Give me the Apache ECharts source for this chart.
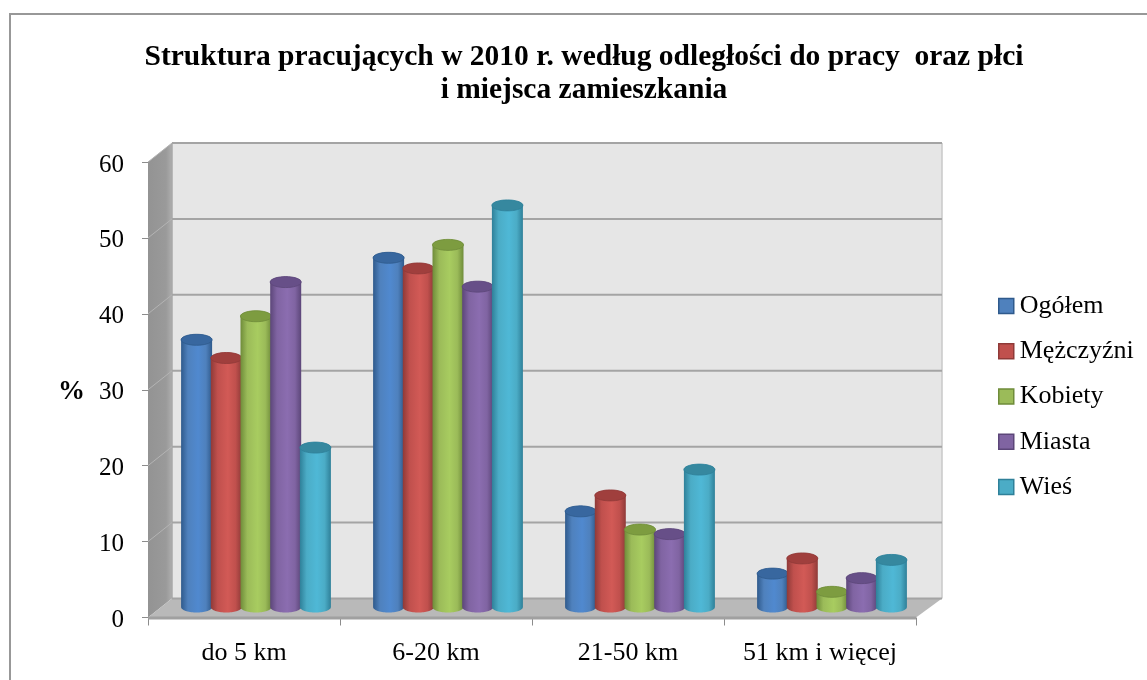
<!DOCTYPE html>
<html>
<head>
<meta charset="utf-8">
<style>html,body{margin:0;padding:0;background:#fff}#c{width:1147px;height:680px}</style>
<script src="https://cdn.jsdelivr.net/npm/echarts@6/dist/echarts.min.js"></script>
</head>
<body>
<div id="c"></div>
<script>
const titleText = 'Struktura pracujących w 2010 r. według odległości do pracy  oraz płci\ni miejsca zamieszkania';
const categories = ['do 5 km', '6-20 km', '21-50 km', '51 km i więcej'];
const seriesNames = ['Ogółem', 'Mężczyźni', 'Kobiety', 'Miasta', 'Wieś'];
const ogolem = [35.2, 46.0, 12.6, 4.4];
const mezczyzni = [32.8, 44.6, 14.7, 6.4];
const kobiety = [38.3, 47.7, 10.2, 2.0];
const miasta = [42.8, 42.2, 9.6, 3.8];
const wies = [21.0, 52.9, 18.1, 6.2];
const yTicks = [0, 10, 20, 30, 40, 50, 60];

const seriesValues = [ogolem, mezczyzni, kobiety, miasta, wies];
const baseColors = ['#4f81bd', '#c0504d', '#9bbb59', '#8064a2', '#4bacc6'];
const edgeColors = ['#2f5a8c', '#8f3a38', '#6f8c3a', '#5c4679', '#2f8099'];
const lightColors = ['#5089cf', '#d25a56', '#a8cc60', '#8b6db0', '#4fb8d6'];
const topColors = ['#38679f', '#a03f3d', '#7d9c40', '#674f88', '#36889f'];

const DEPTH_X = 24, DEPTH_Y = 19, BAR_W = 31, BAR_STEP = 29.7, ELL_RY = 5.5, BACK_EXTRA = 2;
const FONT = '"Liberation Serif", "Times New Roman", serif';

function wallsRender(params, api) {
  const g = params.coordSys;
  const yOf = v => api.coord([0, v])[1];
  const L = g.x, R = g.x + g.width, B = yOf(0), T = yOf(yTicks[yTicks.length - 1]);
  const BR = R + DEPTH_X + BACK_EXTRA;
  const children = [
    { type: 'polygon', shape: { points: [[L, T], [L + DEPTH_X, T - DEPTH_Y], [L + DEPTH_X, B - DEPTH_Y], [L, B]] },
      style: { fill: { type: 'linear', x: 0, y: 0, x2: 1, y2: 0, colorStops: [{ offset: 0, color: '#939393' }, { offset: 0.75, color: '#9a9a9a' }, { offset: 1, color: '#aeaeae' }] } } },
    { type: 'rect', shape: { x: L + DEPTH_X, y: T - DEPTH_Y, width: BR - L - DEPTH_X, height: B - T },
      style: { fill: '#e6e6e6' } },
    { type: 'polygon', shape: { points: [[L, B], [L + DEPTH_X, B - DEPTH_Y], [BR, B - DEPTH_Y], [R, B]] },
      style: { fill: '#b9b9b9' } },
    { type: 'line', shape: { x1: L, y1: B + 0.5, x2: R, y2: B + 0.5 }, style: { stroke: '#a0a0a0', lineWidth: 3 } },
    { type: 'line', shape: { x1: BR, y1: T - DEPTH_Y, x2: BR, y2: B - DEPTH_Y }, style: { stroke: '#c8c8c8', lineWidth: 1.5 } },
    { type: 'line', shape: { x1: L + DEPTH_X, y1: T - DEPTH_Y, x2: L + DEPTH_X, y2: B - DEPTH_Y }, style: { stroke: '#a8a8a8', lineWidth: 1.5 } }
  ];
  yTicks.forEach(v => {
    const y = yOf(v);
    if (v > 0) {
      children.push({ type: 'line', shape: { x1: L, y1: y, x2: L + DEPTH_X, y2: y - DEPTH_Y }, style: { stroke: '#b4b4b4', lineWidth: 1 } });
    }
    children.push({ type: 'line', shape: { x1: L + DEPTH_X, y1: y - DEPTH_Y, x2: BR, y2: y - DEPTH_Y }, style: { stroke: '#a4a4a4', lineWidth: 2 } });
  });
  return { type: 'group', children };
}

function ellipsePts(cx, cy, rx, ry, from, to) {
  const pts = [], n = 36;
  for (let i = 0; i <= n; i++) {
    const a = from + (to - from) * i / n;
    pts.push([cx + rx * Math.cos(a), cy + ry * Math.sin(a)]);
  }
  return pts;
}

function barRender(idx) {
  return function (params, api) {
    const c = api.value(0), v = api.value(1);
    const base = api.coord([c, 0]), top = api.coord([c, v]);
    const cx = base[0] + DEPTH_X / 2 + (idx - 2) * BAR_STEP;
    const by = base[1] - DEPTH_Y / 2 - 1, ty = top[1] - DEPTH_Y / 2 - 1;
    const rx = BAR_W / 2;
    const body = ellipsePts(cx, by, rx, ELL_RY, 0, Math.PI);
    body.push([cx - rx, ty]);
    body.push(...ellipsePts(cx, ty, rx, ELL_RY, Math.PI, 2 * Math.PI));
    const edge = edgeColors[idx], light = lightColors[idx], mid = baseColors[idx];
    return {
      type: 'group',
      children: [
        { type: 'polygon', shape: { points: body },
          style: { fill: { type: 'linear', x: 0, y: 0, x2: 1, y2: 0, colorStops: [
            { offset: 0, color: edge }, { offset: 0.22, color: mid }, { offset: 0.55, color: light },
            { offset: 0.8, color: mid }, { offset: 1, color: edge }] } } },
        { type: 'polygon', shape: { points: ellipsePts(cx, ty, rx, ELL_RY, 0, 2 * Math.PI) },
          style: { fill: topColors[idx], stroke: edge, lineWidth: 0.8 } }
      ]
    };
  };
}

const chart = echarts.init(document.getElementById('c'), null, { renderer: 'canvas' });
chart.setOption({
  animation: false,
  backgroundColor: '#fff',
  title: {
    text: titleText, left: 579, textAlign: 'center', top: 36,
    textStyle: { fontFamily: FONT, fontWeight: 'bold', fontSize: 29.5, lineHeight: 33, color: '#000' }
  },
  graphic: [{ type: 'polyline', shape: { points: [[10, 680], [10, 14], [1147, 14]] }, style: { stroke: '#989898', lineWidth: 2, fill: null } }],
  legend: {
    orient: 'vertical', left: 998, top: 293, padding: 0, itemWidth: 15, itemHeight: 15, itemGap: 19.25, icon: 'rect',
    selectedMode: false,
    textStyle: { fontFamily: FONT, fontSize: 26, color: '#000', padding: [0, 0, 0, 1] },
    data: seriesNames.map((n, i) => ({ name: n, itemStyle: { color: baseColors[i], borderColor: edgeColors[i], borderWidth: 1.5 } }))
  },
  grid: { left: 148, top: 162, width: 768, height: 455.5 },
  xAxis: {
    type: 'category', data: categories,
    axisLine: { show: false },
    axisTick: { show: true, length: 8, lineStyle: { color: '#8c8c8c', width: 1 } },
    axisLabel: { margin: 23, fontFamily: FONT, fontSize: 26, color: '#000', interval: 0 },
    splitLine: { show: false }
  },
  yAxis: {
    type: 'value', min: 0, max: 60, interval: 10,
    name: '%', nameLocation: 'middle', nameGap: 63, nameRotate: 0,
    nameTextStyle: { fontFamily: FONT, fontWeight: 'bold', fontSize: 27, color: '#000', verticalAlign: 'top', lineHeight: 4 },
    axisLine: { show: true, lineStyle: { color: '#8c8c8c', width: 1 } },
    axisTick: { show: true, length: 6, lineStyle: { color: '#8c8c8c', width: 1 } },
    axisLabel: { margin: 24, fontFamily: FONT, fontSize: 25, color: '#000', verticalAlign: 'top', lineHeight: 6 },
    splitLine: { show: false }
  },
  series: [
    { type: 'custom', name: 'walls', silent: true, z: 1, clip: false, renderItem: wallsRender, data: [[0, 0]], encode: { x: 0, y: 1 } },
    ...seriesNames.map((n, i) => ({
      type: 'custom', name: n, z: 2 + i, clip: false,
      itemStyle: { color: baseColors[i] },
      renderItem: barRender(i),
      encode: { x: 0, y: 1 },
      data: seriesValues[i].map((v, k) => [k, v])
    }))
  ]
});
</script>
</body>
</html>
